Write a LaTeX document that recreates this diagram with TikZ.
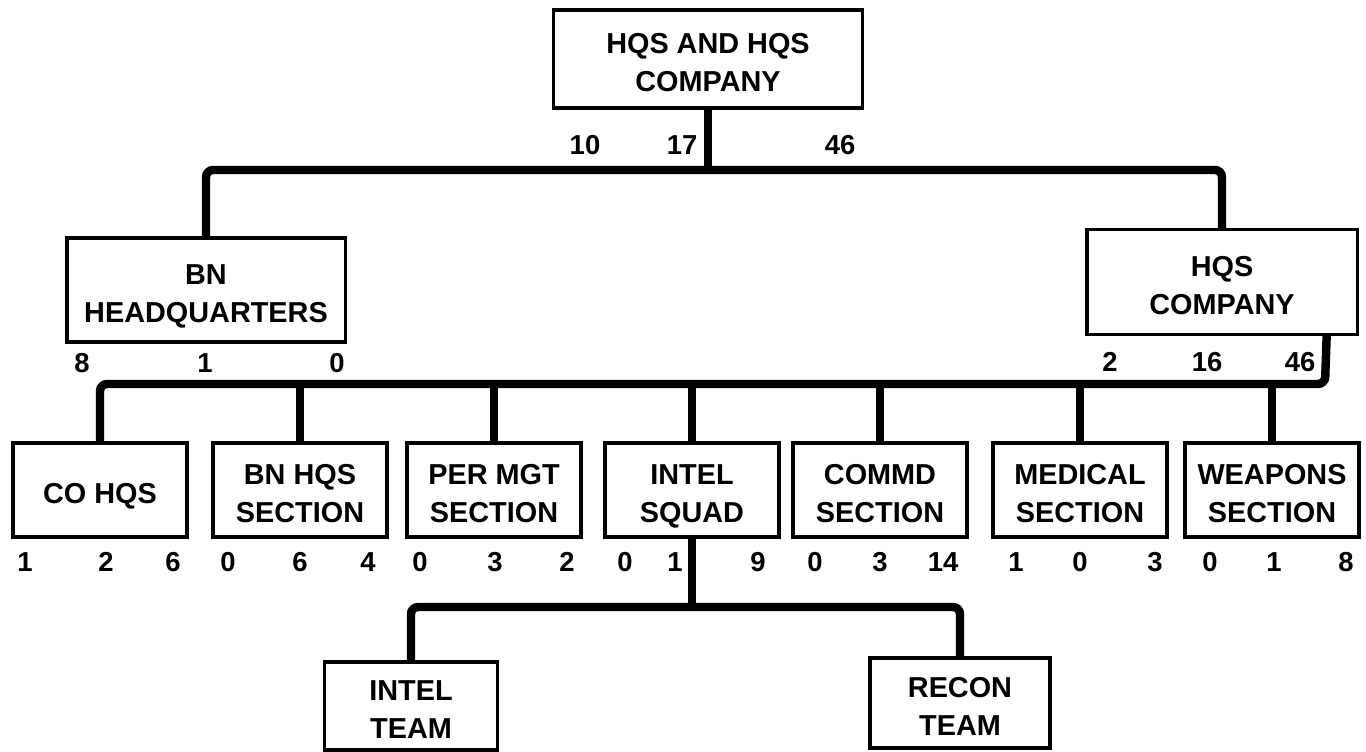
\documentclass[tikz,border=0pt]{standalone}
\usepackage{fontspec}
\setmainfont{Liberation Sans}
\usetikzlibrary{calc}
\newcommand{\tline}{\rule{0pt}{9.5pt}}

\begin{document}
\begin{tikzpicture}[x=0.01cm,y=-0.01cm,font=\fontsize{8.2}{10.8}\selectfont\bfseries,
  unit/.style={draw,line width=0.9pt,align=center,inner sep=0pt,execute at end node={\vphantom{Q}}},
  sub/.style={unit,minimum width=1.74cm,minimum height=0.94cm},
  conn/.style={line width=2.4pt,rounded corners=2pt},
  num/.style={font=\fontsize{7.8}{9}\selectfont\bfseries,inner sep=0pt}]
\useasboundingbox (0,0) rectangle (1366,752);
% company and its two halves
\node[unit,minimum width=3.08cm,minimum height=0.98cm] (hhc) at (708,59) {\tline HQS AND HQS\\COMPANY};
\node[unit,minimum width=2.78cm,minimum height=1.04cm] (bnhq) at (206,290) {\tline BN\\HEADQUARTERS};
\node[unit,minimum width=2.70cm,minimum height=1.05cm] (hqsco) at (1222,282) {\tline HQS\\COMPANY};
% sections
\foreach \nm/\x/\t in {cohqs/100/{CO HQS},bnsec/300/{BN HQS\\SECTION},permgt/494/{PER MGT\\SECTION},
  intel/692/{INTEL\\SQUAD},commd/880/{COMMD\\SECTION},medical/1080/{MEDICAL\\SECTION},weapons/1272/{WEAPONS\\SECTION}}
  {\node[sub] (\nm) at (\x,490) {\tline\t};}
% teams
\node[unit,minimum width=1.73cm,minimum height=0.88cm] (iteam) at (411,706) {\tline INTEL\\TEAM};
\node[unit,minimum width=1.80cm,minimum height=0.90cm] (recon) at (960,703) {\tline RECON\\TEAM};
% connectors
\coordinate (bus1) at (708,170);
\draw[conn] (hhc.south) -- (bus1);
\draw[conn] (bnhq.north) |- (bus1) -| (hqsco.north);
\coordinate (bus2) at (1325,384);
\draw[conn] ($(hqsco.south east)+(-32,0)$) -- (bus2) -| (cohqs.north);
\foreach \nm in {bnsec,permgt,intel,commd,medical,weapons}
  \draw[conn] (\nm.north) -- (\nm.north |- bus2);
\coordinate (bus3) at (692,607);
\draw[conn] (intel.south) -- (bus3);
\draw[conn] (iteam.north) |- (bus3) -| (recon.north);
% strength figures
\foreach \x/\y/\t [count=\i] in {585/145/10,682/145/17,840/145/46,
  82/363/8,205/363/1,337/363/0,1110/362/2,1207/362/16,1300/362/46,
  25/562/1,106/562/2,173/562/6,228/562/0,300/562/6,368/562/4,420/562/0,495/562/3,567/562/2,
  625/562/0,675/562/1,758/562/9,815/562/0,880/562/3,943/562/14,1016/562/1,1080/562/0,1155/562/3,
  1210/562/0,1274/562/1,1346/562/8}
  {\node[num] (num\i) at (\x,\y) {\t};}
\end{tikzpicture}
\end{document}
